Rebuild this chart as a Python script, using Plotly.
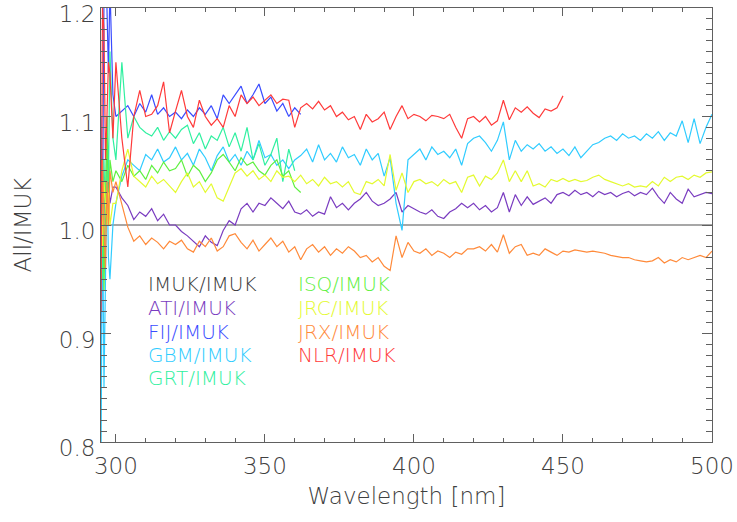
import plotly.graph_objects as go

# wavelength grid (nm)
WL_HEAD = [295, 295.5, 296, 296.5, 297, 297.5, 298, 299]
WL_MAIN = list(range(300, 501, 2))
WL = WL_HEAD + WL_MAIN

IMUK = [1.0, 1.0]
IMUK_X = [295, 500]

ATI = [0.87, 1.05, 1.04, 1.0, 1.03, 1.04, 1.02, 1.035,
       1.035, 1.025, 1.018, 1.005, 1.012, 1.008, 1.015, 1.004, 1.01, 1.0,
       1.0, 0.994, 0.99, 0.985, 0.98, 0.99, 0.984, 0.981, 0.995, 1.004,
       1.0, 1.015, 1.02, 1.012, 1.02, 1.018, 1.025, 1.02, 1.015, 1.022,
       1.012, 1.01, 1.014, 1.008, 1.012, 1.01, 1.026, 1.016, 1.02, 1.014,
       1.02, 1.024, 1.03, 1.022, 1.018, 1.02, 1.024, 1.03, 1.012, 1.018,
       1.015, 1.012, 1.01, 1.014, 1.008, 1.006, 1.012, 1.015, 1.02, 1.016,
       1.02, 1.014, 1.018, 1.012, 1.016, 1.03, 1.012, 1.028, 1.018, 1.026,
       1.019, 1.022, 1.025, 1.02, 1.028, 1.03, 1.027, 1.032, 1.028, 1.03,
       1.026, 1.031, 1.028, 1.03, 1.026, 1.029, 1.031, 1.027, 1.03, 1.028,
       1.034, 1.026, 1.02, 1.03, 1.024, 1.02, 1.033, 1.026, 1.028, 1.03,
       1.029]

FIJ = [1.1, 1.0, 1.21, 1.21, 1.2, 1.14, 1.22, 1.12,
       1.1, 1.105, 1.11, 1.1, 1.112, 1.104, 1.12, 1.102, 1.108, 1.1,
       1.104, 1.098, 1.106, 1.1, 1.108, 1.102, 1.11, 1.098, 1.12, 1.112,
       1.12, 1.128, 1.112, 1.12, 1.13, 1.112, 1.118, 1.105, 1.112, 1.1,
       1.108, 1.102]

GBM = [0.78, 1.02, 0.85, 0.95, 1.05, 0.97, 0.95, 1.0,
       1.02, 1.045, 1.06, 1.055, 1.05, 1.065, 1.06, 1.07, 1.058, 1.062,
       1.072, 1.06, 1.066, 1.055, 1.07, 1.062, 1.05, 1.064, 1.072, 1.058,
       1.065, 1.055, 1.068, 1.06, 1.078, 1.062, 1.065, 1.055, 1.06, 1.052,
       1.06, 1.064, 1.07, 1.058, 1.074, 1.06, 1.066, 1.058, 1.072, 1.062,
       1.065, 1.055, 1.07, 1.06, 1.066, 1.045, 1.062, 1.02, 0.995, 1.06,
       1.065, 1.07, 1.06, 1.072, 1.065, 1.068, 1.062, 1.07, 1.055, 1.075,
       1.08, 1.082, 1.076, 1.068, 1.078, 1.095, 1.06, 1.078, 1.068, 1.074,
       1.07, 1.075, 1.068, 1.072, 1.066, 1.07, 1.064, 1.072, 1.062, 1.068,
       1.074, 1.076, 1.08, 1.082, 1.078, 1.084, 1.08, 1.082, 1.078, 1.084,
       1.08, 1.086, 1.078, 1.085, 1.082, 1.096, 1.076, 1.098, 1.075, 1.09,
       1.102]

GRT = [1.02, 0.95, 1.06, 1.0, 1.1, 1.04, 1.16, 1.08,
       1.06, 1.15, 1.08, 1.1, 1.09, 1.085, 1.082, 1.09, 1.078, 1.086,
       1.08, 1.088, 1.092, 1.075, 1.085, 1.07, 1.082, 1.078, 1.09, 1.072,
       1.085, 1.068, 1.09, 1.06, 1.075, 1.055, 1.065, 1.08, 1.04, 1.07,
       1.05]

ISQ = [1.0, 1.05, 0.94, 1.03, 1.1, 1.0, 1.06, 1.04,
       1.05, 1.04, 1.055, 1.045, 1.05, 1.042, 1.055, 1.048, 1.058, 1.05,
       1.052, 1.06, 1.045, 1.055, 1.05, 1.04, 1.048, 1.06, 1.065, 1.058,
       1.05, 1.062, 1.055, 1.058, 1.05, 1.046, 1.055, 1.06, 1.045, 1.05,
       1.035, 1.03]

JRC = [1.03, 0.98, 1.04, 1.02, 1.0, 1.03, 1.0, 1.02,
       1.02, 1.05, 1.07, 1.045, 1.04, 1.035, 1.045, 1.038, 1.042, 1.036,
       1.03, 1.04, 1.048, 1.035, 1.04, 1.03, 1.038, 1.025, 1.022, 1.035,
       1.048, 1.052, 1.045, 1.05, 1.042, 1.046, 1.04, 1.05, 1.044, 1.045,
       1.04, 1.046, 1.038, 1.042, 1.036, 1.044, 1.038, 1.04, 1.035, 1.04,
       1.03, 1.028, 1.04, 1.038, 1.042, 1.036, 1.065, 1.032, 1.048, 1.03,
       1.04, 1.042, 1.038, 1.04, 1.036, 1.042, 1.038, 1.04, 1.03, 1.044,
       1.046, 1.036, 1.045, 1.042, 1.048, 1.06, 1.04, 1.05, 1.04, 1.05,
       1.036, 1.038, 1.035, 1.042, 1.04, 1.043, 1.04, 1.042, 1.04, 1.041,
       1.044, 1.046, 1.042, 1.04, 1.038, 1.036, 1.038, 1.035, 1.036, 1.035,
       1.04, 1.036, 1.044, 1.04, 1.044, 1.045, 1.042, 1.046, 1.044, 1.048,
       1.049]

JRX = [0.95, 1.06, 1.0, 0.96, 1.04, 1.0, 1.05, 1.03,
       1.04, 1.02, 0.998, 0.985, 0.99, 0.982, 0.988, 0.984, 0.978, 0.985,
       0.982, 0.986, 0.978, 0.975, 0.985, 0.98, 0.988, 0.976, 0.98, 0.99,
       0.992, 0.984, 0.978, 0.986, 0.976, 0.982, 0.988, 0.98, 0.985, 0.975,
       0.98, 0.968, 0.978, 0.982, 0.975, 0.98, 0.972, 0.978, 0.974, 0.98,
       0.976, 0.97, 0.972, 0.966, 0.97, 0.962, 0.958, 0.99, 0.97, 0.984,
       0.976, 0.974, 0.978, 0.972, 0.976, 0.974, 0.97, 0.975, 0.973, 0.978,
       0.978, 0.98, 0.976, 0.982, 0.975, 0.991, 0.974, 0.98, 0.982, 0.972,
       0.974, 0.972, 0.978, 0.975, 0.972, 0.976, 0.975, 0.977, 0.976, 0.975,
       0.976, 0.975, 0.974, 0.972, 0.971, 0.97, 0.97, 0.968, 0.967, 0.966,
       0.967, 0.97, 0.965, 0.968, 0.966, 0.97, 0.968, 0.97, 0.972, 0.97,
       0.976]

NLR = [0.92, 1.2, 1.18, 1.06, 1.1, 1.15, 1.14, 1.08,
       1.15, 1.08, 1.035, 1.1, 1.124, 1.1, 1.102, 1.11, 1.132, 1.085,
       1.105, 1.124, 1.1, 1.09, 1.115, 1.1, 1.092, 1.098, 1.09, 1.11,
       1.1, 1.12, 1.112, 1.118, 1.11, 1.115, 1.12, 1.112, 1.116, 1.115,
       1.09, 1.108, 1.112, 1.107, 1.114, 1.106, 1.11, 1.1, 1.104, 1.097,
       1.1, 1.088, 1.102, 1.095, 1.098, 1.104, 1.088, 1.1, 1.11, 1.098,
       1.102, 1.1, 1.096, 1.101, 1.1, 1.098, 1.102, 1.09, 1.08, 1.098,
       1.1, 1.095, 1.1, 1.092, 1.096, 1.115, 1.097, 1.108, 1.104, 1.109,
       1.103, 1.099, 1.107, 1.105, 1.108, 1.119]

SERIES = [
    ("IMUK/IMUK", IMUK_X, IMUK, "#8a8a8a", "#3a3a3a"),
    ("ATI/IMUK", WL, ATI, "#7a3cc0", "#7a3cc0"),
    ("FIJ/IMUK", WL, FIJ, "#3a4cff", "#3a4cff"),
    ("GBM/IMUK", WL, GBM, "#30ccff", "#30ccff"),
    ("GRT/IMUK", WL, GRT, "#30f0a0", "#30f0a0"),
    ("ISQ/IMUK", WL, ISQ, "#5ef040", "#5ef040"),
    ("JRC/IMUK", WL, JRC, "#e4fa30", "#e4fa30"),
    ("JRX/IMUK", WL, JRX, "#ff8a3a", "#ff8a3a"),
    ("NLR/IMUK", WL, NLR, "#ff3a3a", "#ff3a3a"),
]

FONT = "DejaVu Sans"
W = 200
TICKC = "#606060"
TXT = "#404040"

fig = go.Figure()
for name, xs, ys, lc, tc in SERIES:
    fig.add_trace(go.Scatter(x=xs[:len(ys)], y=ys, mode="lines", name=name,
                             line=dict(color=lc, width=1.5 if name == "IMUK/IMUK" else 1.2),
                             showlegend=False))

# text legend in two columns
col_x = [0.0736, 0.319]
row_y = [0.364, 0.309, 0.253, 0.200, 0.147]
for i, (name, xs, ys, lc, tc) in enumerate(SERIES):
    c = 0 if i < 5 else 1
    r = i if i < 5 else i - 5
    fig.add_annotation(x=col_x[c], y=row_y[r], xref="paper", yref="paper",
                       text=name, showarrow=False, xanchor="left", yanchor="middle",
                       font=dict(family=FONT, size=20, color=tc, weight=W))

fig.update_xaxes(range=[295, 500], tickmode="array", tickvals=[300, 350, 400, 450, 500],
                 ticks="inside", ticklen=8, tickwidth=1, tickcolor=TICKC,
                 minor=dict(tickmode="linear", tick0=300, dtick=10, ticks="inside",
                            ticklen=4, tickwidth=1, tickcolor=TICKC),
                 showline=True, linecolor=TICKC, linewidth=1, mirror="ticks",
                 showgrid=False, zeroline=False, ticklabeloverflow="allow", automargin=False,
                 ticklabelstandoff=3,
                 tickfont=dict(family=FONT, size=23, color=TXT, weight=W),
                 title=dict(text="Wavelength [nm]", font=dict(family=FONT, size=23, color=TXT, weight=W),
                            standoff=10))
fig.update_yaxes(range=[0.8, 1.2], tickmode="array", tickvals=[0.8, 0.9, 1.0, 1.1, 1.2],
                 ticktext=["0.8", "0.9", "1.0", "1.1", "1.2"], ticklabeloverflow="allow",
                 ticks="inside", ticklen=10, tickwidth=1, tickcolor=TICKC,
                 minor=dict(tickmode="linear", tick0=0.8, dtick=0.01, ticks="inside",
                            ticklen=6, tickwidth=1, tickcolor=TICKC),
                 showline=True, linecolor=TICKC, linewidth=1, mirror="ticks",
                 showgrid=False, zeroline=False, automargin=False, ticklabelshift=6,
                 tickfont=dict(family=FONT, size=23, color=TXT, weight=W),
                 title=dict(text="All/IMUK", font=dict(family=FONT, size=23, color=TXT, weight=W),
                            standoff=20))

fig.update_layout(width=737, height=522, margin=dict(l=101, r=25, t=8, b=80),
                  plot_bgcolor="white", paper_bgcolor="white")
fig.write_html("out.html")
